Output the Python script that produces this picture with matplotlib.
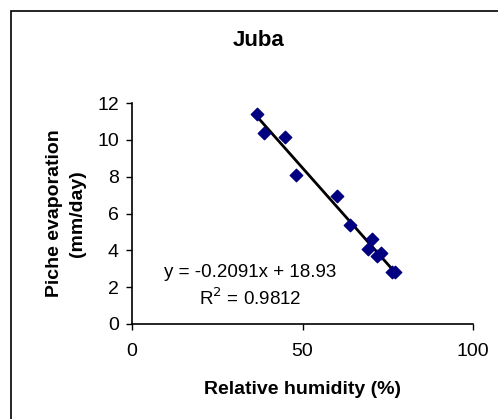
import numpy as np
import matplotlib.pyplot as plt
from matplotlib.patches import Rectangle

plt.rcParams['font.family'] = ['Liberation Sans', 'DejaVu Sans']

# Relative humidity (%) and Piche evaporation (mm/day)
rh = [36.8, 38.8, 45.0, 48.2, 60.0, 64.0, 70.5, 69.1, 71.8, 73.0, 76.1, 77.0]
evap = [11.41, 10.36, 10.18, 8.1, 6.96, 5.4, 4.6, 4.06, 3.7, 3.88, 2.84, 2.84]
slope, intercept = -0.2091, 18.93
r2 = 0.9812

fig = plt.figure(figsize=(4.98, 4.19), dpi=100)
fig.patches.append(Rectangle((11 / 498, -0.05), 1.2, 1 - 11 / 419 + 0.05,
                             transform=fig.transFigure, fill=False,
                             edgecolor='black', linewidth=1.2))

ax = fig.add_axes([132 / 498, 1 - 324 / 419, (473 - 132) / 498, (324 - 103) / 419])

xs = np.array([min(rh), max(rh)])
ax.plot(xs, slope * xs + intercept, color='black', linewidth=2, zorder=2)
ax.scatter(rh, evap, marker='D', s=40, color='#000080', zorder=3)

ax.set_xlim(0, 100)
ax.set_ylim(0, 12)
ax.set_xticks([0, 50, 100])
ax.set_yticks(range(0, 13, 2))
for s in ['top', 'right']:
    ax.spines[s].set_visible(False)
ax.spines['left'].set_linewidth(1.2)
ax.spines['bottom'].set_linewidth(1.2)
ax.tick_params(axis='y', direction='out', length=4.5, width=1, labelsize=14, pad=5)
ax.tick_params(axis='x', direction='out', length=4.5, width=1, labelsize=14, pad=9)

ax.set_xlabel('Relative humidity (%)', fontsize=14, fontweight='bold', labelpad=15)
ax.set_ylabel('Piche evaporation\n(mm/day)', fontsize=14, fontweight='bold',
              labelpad=8, linespacing=1.45)
fig.text(259 / 498, 1 - 41 / 419, 'Juba', ha='center', va='center',
         fontsize=16, fontweight='bold')

ax.text(34.6, 2.82, 'y = %.4fx + %.2f' % (slope, intercept), ha='center', va='center',
        fontsize=13.5)
ax.text(34.6, 1.41, 'R$^2$ = %.4f' % r2, ha='center', va='center', fontsize=13.5)

fig.savefig('out.png', dpi=100)
